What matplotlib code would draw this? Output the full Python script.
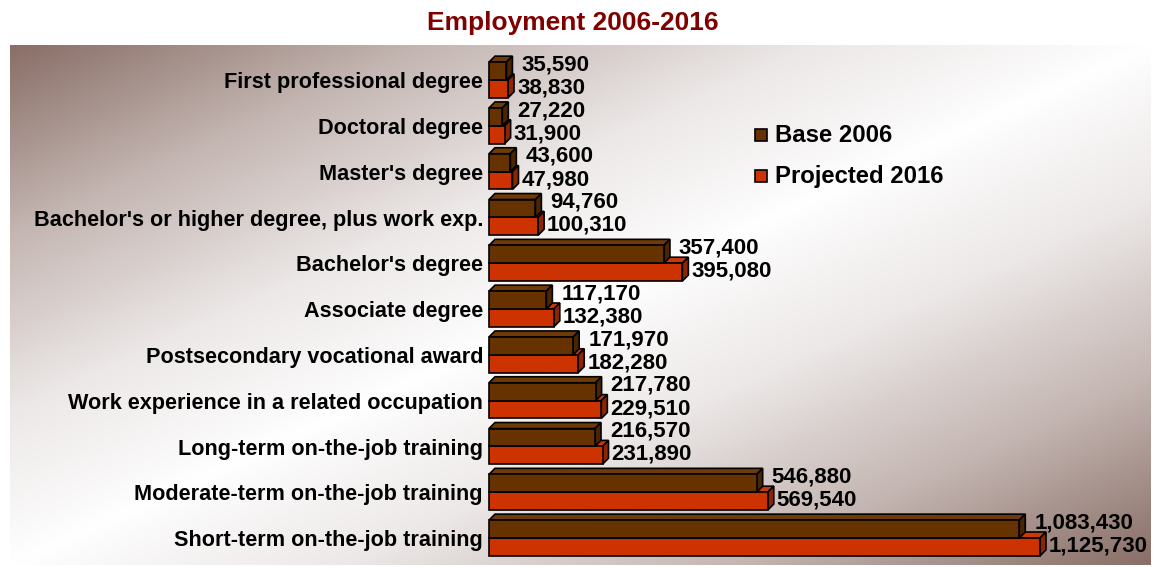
import numpy as np
import matplotlib
matplotlib.use("Agg")
import matplotlib.pyplot as plt
from matplotlib.patches import Polygon, Rectangle
from matplotlib.colors import LinearSegmentedColormap

# Employment by education/training category
categories = ["First professional degree",
              "Doctoral degree",
              "Master's degree",
              "Bachelor's or higher degree, plus work exp.",
              "Bachelor's degree",
              "Associate degree",
              "Postsecondary vocational award",
              "Work experience in a related occupation",
              "Long-term on-the-job training",
              "Moderate-term on-the-job training",
              "Short-term on-the-job training"]
base_2006 = [35590, 27220, 43600, 94760, 357400, 117170,
             171970, 217780, 216570, 546880, 1083430]
proj_2016 = [38830, 31900, 47980, 100310, 395080, 132380,
             182280, 229510, 231890, 569540, 1125730]
series_names = ["Base 2006", "Projected 2016"]

plt.rcParams['font.family'] = ['Liberation Sans', 'DejaVu Sans']

W, H = 1159, 567
fig = plt.figure(figsize=(W / 100, H / 100), dpi=100)

# plot area in pixels
px0, px1, py0, py1 = 10, 1151, 45, 565
rect = [px0 / W, 1 - py1 / H, (px1 - px0) / W, (py1 - py0) / H]

# background gradient
bg = fig.add_axes(rect, zorder=0)
u = np.linspace(0, 1, 400)[None, :]
v = np.linspace(0, 1, 200)[:, None]
g = np.abs(u + v - 1) ** 0.9
cmap = LinearSegmentedColormap.from_list("bg", ["#ffffff", "#ece8e7", "#c4b6b2", "#8a6f68"])
bg.imshow(g, cmap=cmap, aspect="auto", extent=[0, 1, 1, 0], vmin=0, vmax=1)
bg.axis("off")

ax = fig.add_axes(rect, zorder=1)
ax.patch.set_alpha(0)
ax.axis("off")

# data scale: zero at x=489 px, 1,125,730 at ~1040 px
x_zero = 489
upx = 1125730 / (1040 - x_zero)
ax.set_xlim(-(x_zero - px0) * upx, (px1 - x_zero) * upx)
row = 45.8
top0 = 80
ax.set_ylim((py1 - top0) / row, -(top0 - py0) / row)

bh = 0.39
dx = 6 * upx
dy = 6 / row

cols = {"base": ("#663300", "#6e3a0a", "#4a2500"),
        "proj": ("#cc3300", "#c9380a", "#8f2400")}


def bar3d(x, y0, h, c):
    front, top, side = c
    # top face
    ax.add_patch(Polygon([(0, y0), (dx, y0 - dy), (x + dx, y0 - dy), (x, y0)],
                         closed=True, fc=top, ec="black", lw=1.2))
    # side face
    ax.add_patch(Polygon([(x, y0), (x + dx, y0 - dy), (x + dx, y0 + h - dy), (x, y0 + h)],
                         closed=True, fc=side, ec="black", lw=1.2))
    ax.add_patch(Rectangle((0, y0), x, h, fc=front, ec="black", lw=1.2))


y = np.arange(len(categories))
for i in range(len(categories)):
    bar3d(proj_2016[i], y[i], bh, cols["proj"])
    bar3d(base_2006[i], y[i] - bh, bh, cols["base"])
    ax.text(base_2006[i] + dx + 9 * upx, y[i] - bh * 0.85, f"{base_2006[i]:,}",
            ha="left", va="center", fontsize=16, fontweight="bold")
    ax.text(proj_2016[i] + dx + 3 * upx, y[i] + bh * 0.45, f"{proj_2016[i]:,}",
            ha="left", va="center", fontsize=16, fontweight="bold")
    ax.text(-6 * upx, y[i] + 0.06, categories[i], ha="right", va="center",
            fontsize=15.6, fontweight="bold")

# legend
lx = (761 - x_zero) * upx
for k, (name, c) in enumerate(zip(series_names, [cols["base"][0], cols["proj"][0]])):
    ly = (135 + 41 * k - top0) / row
    ax.add_patch(Rectangle((lx - 6 * upx, ly - 6 / row), 12 * upx, 12 / row,
                           fc=c, ec="black", lw=1.2))
    ax.text(lx + 14 * upx, ly, name, ha="left", va="center",
            fontsize=17.2, fontweight="bold")

fig.text(573 / W, 1 - 23 / H, "Employment 2006-2016", ha="center", va="center",
         fontsize=19, fontweight="bold", color="#800000")

fig.savefig("out.png", dpi=100)
